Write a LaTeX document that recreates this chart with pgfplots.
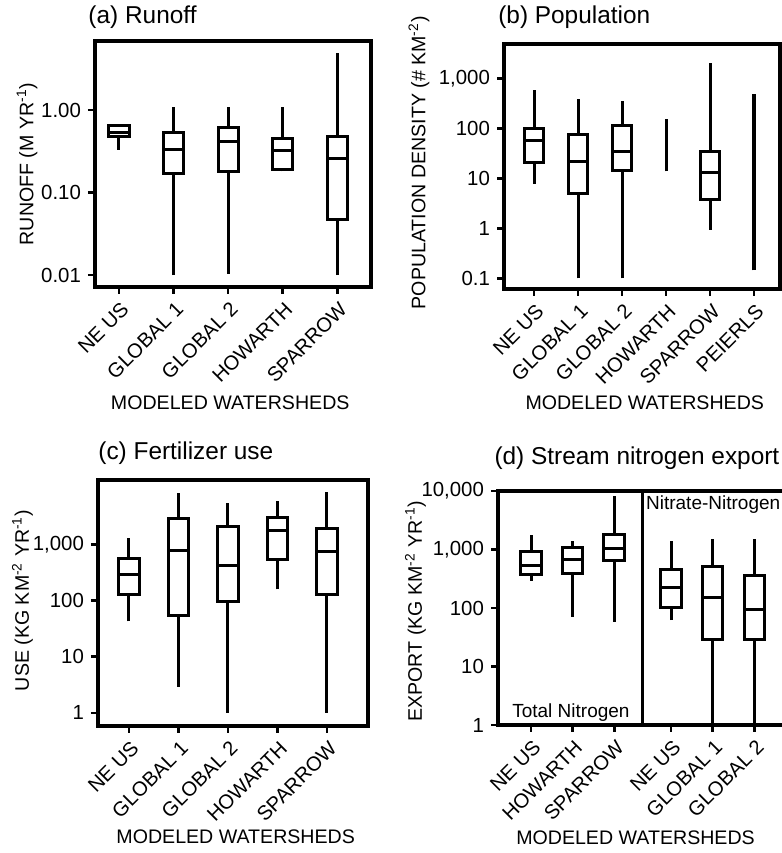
\documentclass[border=0pt]{standalone}
\usepackage{fontspec}
\setmainfont{Liberation Sans}
\usepackage{pgfplots}
\pgfplotsset{compat=1.18}

% box: position, half width, lower whisker, lower quartile, median, upper quartile, upper whisker
\newcommand{\bx}[7]{%
  \pgfmathsetmacro\xl{#1-#2}\pgfmathsetmacro\xr{#1+#2}%
  \edef\tmp{%
    \noexpand\addplot[black, line width=1.5pt, line cap=rect] coordinates {(\xl,#4) (\xr,#4) (\xr,#6) (\xl,#6) (\xl,#4)};
    \noexpand\addplot[black, line width=1.5pt] coordinates {(\xl,#5) (\xr,#5)};
    \noexpand\addplot[black, line width=1.5pt] coordinates {(#1,#3) (#1,#4)};
    \noexpand\addplot[black, line width=1.5pt] coordinates {(#1,#6) (#1,#7)};
  }\tmp}

\pgfplotsset{
  mypanel/.style={
    scale only axis, anchor=south west,
    axis line style={line width=1.7pt, black},
    tick style={line width=1.4pt, black},
    major tick length=3.5pt, tick align=outside,
    xtick pos=bottom, ytick pos=left,
    yminorticks=false, xminorticks=false,
    yticklabel style={font=\fontsize{10.2}{12}\selectfont},
    xticklabel style={font=\fontsize{10.1}{12}\selectfont, rotate=45, anchor=east, xshift=1.4pt, yshift=-6.4pt},
    label style={font=\fontsize{9.8}{12}\selectfont},
    ylabel style={anchor=center},
    xlabel style={anchor=center},
    clip=false,
  },
}
\tikzset{ttl/.style={anchor=west, font=\fontsize{12.2}{14}\selectfont, inner sep=0pt}}

\begin{document}
\begin{tikzpicture}
% (a) Runoff
\begin{axis}[mypanel, ymode=log, at={(47.5pt,283pt)}, width=138pt, height=123pt,
  xmin=0.56, xmax=5.62, ymin=0.00716, ymax=6.86,
  xtick={1,2,3,4,5}, xticklabels={NE US, GLOBAL 1, GLOBAL 2, HOWARTH, SPARROW},
  ytick={0.01,0.1,1}, yticklabels={0.01,0.10,1.00},
  ylabel={RUNOFF (M YR\textsuperscript{-1})},
  ylabel style={at={(axis description cs:-0.246,0.5)}},
  xlabel={MODELED WATERSHEDS},
  xlabel style={at={(axis description cs:0.49,-0.472)}},
]
\bx{1}{0.185}{0.33}{0.48}{0.54}{0.64}{0.68}
\bx{2}{0.185}{0.01}{0.17}{0.33}{0.54}{1.1}
\bx{3}{0.185}{0.0104}{0.18}{0.41}{0.61}{1.1}
\bx{4}{0.185}{0.18}{0.19}{0.32}{0.45}{1.1}
\bx{5}{0.185}{0.01}{0.047}{0.26}{0.48}{4.85}
\node[ttl] at (axis description cs:-0.025,1.098) {(a) Runoff};
\end{axis}

% (b) Population
\begin{axis}[mypanel, ymode=log, at={(252pt,282pt)}, width=138pt, height=122.5pt,
  xmin=0.318, xmax=6.59, ymin=0.061, ymax=4860,
  xtick={1,2,3,4,5,6}, xticklabels={NE US, GLOBAL 1, GLOBAL 2, HOWARTH, SPARROW, PEIERLS},
  ytick={0.1,1,10,100,1000}, yticklabels={0.1,1,10,100,{1,000}},
  ylabel={POPULATION DENSITY (\# KM\textsuperscript{-2})},
  ylabel style={at={(axis description cs:-0.308,0.515)}},
  xlabel={MODELED WATERSHEDS},
  xlabel style={at={(axis description cs:0.51,-0.465)}},
]
\bx{1}{0.225}{7.8}{21}{56}{100}{575}
\bx{2}{0.225}{0.1}{4.9}{22}{73.6}{392}
\bx{3}{0.225}{0.1}{14.5}{34}{113}{347}
\addplot[black, line width=1.5pt] coordinates {(4,13.8) (4,154)};
\bx{5}{0.225}{0.94}{3.7}{13.2}{34.7}{2026}
\addplot[black, line width=2pt] coordinates {(6,0.144) (6,493)};
\node[ttl] at (axis description cs:-0.022,1.11) {(b) Population};
\end{axis}

% (c) Fertilizer use
\begin{axis}[mypanel, ymode=log, at={(49pt,63.5pt)}, width=135pt, height=123pt,
  xmin=0.374, xmax=5.83, ymin=0.586, ymax=14220,
  xtick={1,2,3,4,5}, xticklabels={NE US, GLOBAL 1, GLOBAL 2, HOWARTH, SPARROW},
  ytick={1,10,100,1000}, yticklabels={1,10,100,{1,000}},
  ylabel={USE (KG KM\textsuperscript{-2} YR\textsuperscript{-1})},
  ylabel style={at={(axis description cs:-0.28,0.51)}},
  xlabel={MODELED WATERSHEDS},
  xlabel style={at={(axis description cs:0.51,-0.451)}},
]
\bx{1}{0.205}{43}{127}{292}{556}{1297}
\bx{2}{0.205}{2.94}{54}{803}{2943}{8220}
\bx{3}{0.205}{1}{99}{417}{2093}{5455}
\bx{4}{0.205}{160}{548}{1800}{3027}{6085}
\bx{5}{0.205}{1}{132}{771}{1955}{8810}
\node[ttl] at (axis description cs:0,1.11) {(c) Fertilizer use};
\end{axis}

% (d) Stream nitrogen export
\begin{axis}[mypanel, ymode=log, at={(249pt,64pt)}, width=149.5pt, height=117pt,
  xmin=0.205, xmax=7.4, ymin=1, ymax=10000,
  xtick={1,2,3,4.37,5.37,6.37}, xticklabels={NE US, HOWARTH, SPARROW, NE US, GLOBAL 1, GLOBAL 2},
  ytick={1,10,100,1000,10000}, yticklabels={1,10,100,{1,000},{10,000}},
  ylabel={EXPORT (KG KM\textsuperscript{-2} YR\textsuperscript{-1})},
  ylabel style={at={(axis description cs:-0.276,0.487)}},
  xlabel={MODELED WATERSHEDS},
  xlabel style={at={(axis description cs:0.46,-0.483)}},
]
\bx{1}{0.245}{290}{376}{529}{942}{1770}
\bx{2}{0.245}{71}{392}{679}{1075}{1416}
\bx{3}{0.245}{58}{661}{1047}{1817}{8220}
\bx{4.37}{0.245}{62}{104}{225}{452}{1416}
\bx{5.37}{0.245}{1}{29}{152}{509}{1511}
\bx{6.37}{0.245}{1}{29}{92.5}{361}{1511}
\draw[black, line width=1.5pt] (axis cs:3.69,1) -- (axis cs:3.69,10000);
\node[font=\fontsize{9.5}{11}\selectfont, anchor=center] at (axis cs:1.96,1.6) {Total Nitrogen};
\node[font=\fontsize{9.5}{11}\selectfont, anchor=west, inner sep=0pt] at (axis cs:3.76,5750) {Nitrate-Nitrogen};
\node[ttl] at (axis description cs:-0.013,1.141) {(d) Stream nitrogen export};
\end{axis}

\pgfresetboundingbox
\path[use as bounding box] (0,0) rectangle (391pt,426.5pt);
\end{tikzpicture}
\end{document}
